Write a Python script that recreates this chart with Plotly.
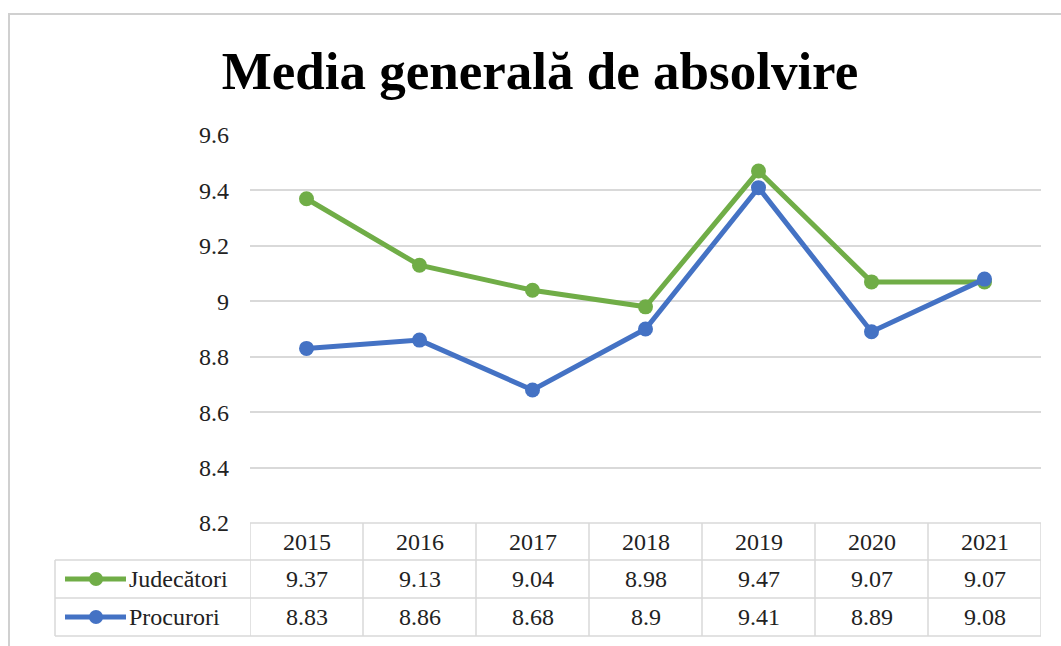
import plotly.graph_objects as go

# ---- data ----
years = ["2015", "2016", "2017", "2018", "2019", "2020", "2021"]
judecatori = [9.37, 9.13, 9.04, 8.98, 9.47, 9.07, 9.07]
procurori = [8.83, 8.86, 8.68, 8.9, 9.41, 8.89, 9.08]
series_names = ["Judecători", "Procurori"]
series_values = [judecatori, procurori]
series_colors = ["#70AD47", "#4472C4"]
judecatori_labels = ["9.37", "9.13", "9.04", "8.98", "9.47", "9.07", "9.07"]
procurori_labels = ["8.83", "8.86", "8.68", "8.9", "9.41", "8.89", "9.08"]
series_labels = [judecatori_labels, procurori_labels]
ytick_vals = [8.2, 8.4, 8.6, 8.8, 9.0, 9.2, 9.4, 9.6]
ytick_text = ["8.2", "8.4", "8.6", "8.8", "9", "9.2", "9.4", "9.6"]
title_text = "Media generală de absolvire"

# ---- layout geometry (pixels) ----
W, H = 1061, 646
ML, MR, MT, MB = 250, 20, 135, 123
PW, PH = W - ML - MR, H - MT - MB
FONT = "Liberation Serif"
TXT = "#222222"
GRID = "#d9d9d9"
FS = 24


def px_x(p):
    return (p - ML) / PW


def px_y(p):
    return 1 - (p - MT) / PH


fig = go.Figure()
for name, vals, col in zip(series_names, series_values, series_colors):
    fig.add_trace(go.Scatter(
        x=years, y=vals, name=name, mode="lines+markers",
        line=dict(color=col, width=5),
        marker=dict(color=col, size=15),
        showlegend=False, cliponaxis=False,
    ))

shapes = []
annotations = []

# table rows (pixel boundaries)
row_edges = [523, 560, 598, 636]
row_y = [px_y(p) for p in row_edges]
n = len(years)
leg_left = px_x(55)

# horizontal lines
shapes.append(dict(type="line", xref="x", yref="paper", x0=-0.5, x1=n - 0.5,
                   y0=row_y[0], y1=row_y[0], line=dict(color=GRID, width=1.5)))
for yy in row_y[1:]:
    shapes.append(dict(type="line", xref="paper", yref="paper", x0=leg_left, x1=1,
                       y0=yy, y1=yy, line=dict(color=GRID, width=1.5)))
# vertical lines
for i in range(n + 1):
    shapes.append(dict(type="line", xref="x", yref="paper", x0=i - 0.5, x1=i - 0.5,
                       y0=row_y[0], y1=row_y[-1], line=dict(color=GRID, width=1.5)))
shapes.append(dict(type="line", xref="paper", yref="paper", x0=leg_left, x1=leg_left,
                   y0=row_y[1], y1=row_y[-1], line=dict(color=GRID, width=1.5)))

# outer frame of the chart
shapes.append(dict(type="rect", xref="paper", yref="paper",
                   x0=px_x(9), x1=px_x(W + 20), y0=px_y(14), y1=px_y(H + 20),
                   line=dict(color="#d0d0d0", width=2), layer="below"))

# header years
hdr_y = (row_y[0] + row_y[1]) / 2
for i, yr in enumerate(years):
    annotations.append(dict(x=i, y=hdr_y, xref="x", yref="paper", text=yr,
                            xanchor="center", yanchor="middle",
                            showarrow=False, font=dict(family=FONT, size=FS, color=TXT)))

# series rows
for r, (name, labels, col) in enumerate(zip(series_names, series_labels, series_colors)):
    cy = (row_y[r + 1] + row_y[r + 2]) / 2
    for i, lab in enumerate(labels):
        annotations.append(dict(x=i, y=cy, xref="x", yref="paper", text=lab,
                                xanchor="center", yanchor="middle",
                                showarrow=False, font=dict(family=FONT, size=FS, color=TXT)))
    annotations.append(dict(x=px_x(127), y=cy, xref="paper", yref="paper", text=name,
                            xanchor="left", yanchor="middle", showarrow=False,
                            font=dict(family=FONT, size=FS, color=TXT)))
    shapes.append(dict(type="line", xref="paper", yref="paper", x0=px_x(65), x1=px_x(126),
                       y0=cy, y1=cy, line=dict(color=col, width=5)))
    r_px = 7
    shapes.append(dict(type="circle", xref="paper", yref="paper",
                       x0=px_x(96 - r_px), x1=px_x(96 + r_px),
                       y0=cy - r_px / PH, y1=cy + r_px / PH,
                       fillcolor=col, line=dict(color=col, width=0)))

fig.update_layout(
    width=W, height=H,
    margin=dict(l=ML, r=MR, t=MT, b=MB),
    paper_bgcolor="white", plot_bgcolor="white",
    title=dict(text="<b>" + title_text + "</b>", x=540 / W, xref="container",
               xanchor="center", y=1 - 70 / H, yref="container", yanchor="middle",
               font=dict(family=FONT, size=53, color="#000000")),
    xaxis=dict(type="category", range=[-0.5, n - 0.5], showticklabels=False,
               showgrid=False, zeroline=False, showline=False, ticks=""),
    yaxis=dict(range=[8.2, 9.6], tickvals=ytick_vals, ticktext=ytick_text,
               showgrid=True, gridcolor=GRID, gridwidth=2, zeroline=False,
               showline=False, ticks="", ticklabelstandoff=20,
               tickfont=dict(family=FONT, size=FS, color=TXT)),
    shapes=shapes, annotations=annotations,
    font=dict(family=FONT),
)

fig.write_html("out.html", config={"displayModeBar": False},
               post_script="document.body.style.margin='0';document.body.style.overflow='hidden';")
